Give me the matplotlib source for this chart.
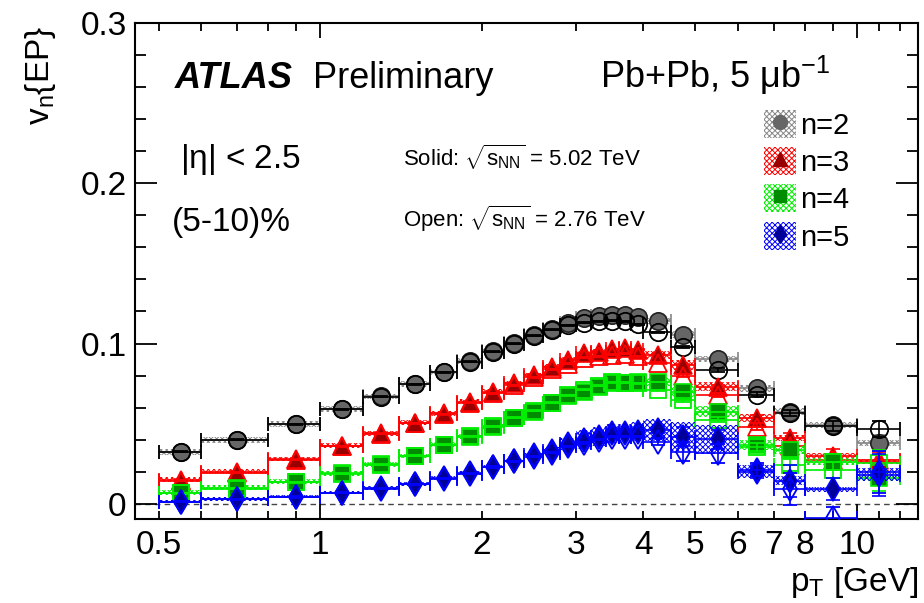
import matplotlib
matplotlib.use('Agg')
import matplotlib.pyplot as plt
from matplotlib.patches import Rectangle
from matplotlib.lines import Line2D
from matplotlib.ticker import FixedLocator, FixedFormatter, MultipleLocator

plt.rcParams['font.family'] = ['Liberation Sans', 'DejaVu Sans']
plt.rcParams['mathtext.fontset'] = 'custom'
plt.rcParams['mathtext.rm'] = 'Liberation Sans'
plt.rcParams['mathtext.it'] = 'Liberation Sans:italic'
plt.rcParams['hatch.linewidth'] = 0.7

# pT bins [GeV]
pt_lo = [0.5, 0.6, 0.8, 1.0, 1.2, 1.4, 1.6, 1.8, 2.0, 2.2, 2.4, 2.6, 2.8,
         3.0, 3.2, 3.4, 3.6, 3.8, 4.0, 4.5, 5.0, 6.0, 7.0, 8.0, 10.0]
pt_hi = [0.6, 0.8, 1.0, 1.2, 1.4, 1.6, 1.8, 2.0, 2.2, 2.4, 2.6, 2.8, 3.0,
         3.2, 3.4, 3.6, 3.8, 4.0, 4.5, 5.0, 6.0, 7.0, 8.0, 10.0, 12.0]

# 5.02 TeV (solid)
v2_502 = [0.0326, 0.0400, 0.0500, 0.0592, 0.0670, 0.0748, 0.0823, 0.0890, 0.0952, 0.1003, 0.1053, 0.1093, 0.1130,
          0.1160, 0.1172, 0.1180, 0.1180, 0.1165, 0.1140, 0.1055, 0.0905, 0.0720, 0.0576, 0.0493, 0.0378]
v3_502 = [0.0150, 0.0200, 0.0280, 0.0364, 0.0441, 0.0507, 0.0565, 0.0638, 0.0700, 0.0752, 0.0804, 0.0856, 0.0898,
          0.0940, 0.0950, 0.0964, 0.0970, 0.0960, 0.0929, 0.0867, 0.0731, 0.0534, 0.0410, 0.0300, 0.0264]
v4_502 = [0.0070, 0.0100, 0.0139, 0.0191, 0.0247, 0.0299, 0.0368, 0.0420, 0.0482, 0.0534, 0.0575, 0.0628, 0.0673,
          0.0700, 0.0731, 0.0752, 0.0755, 0.0758, 0.0760, 0.0700, 0.0576, 0.0368, 0.0337, 0.0264, 0.0160]
v5_502 = [0.0015, 0.0030, 0.0046, 0.0071, 0.0098, 0.0125, 0.0160, 0.0191, 0.0233, 0.0270, 0.0305, 0.0332, 0.0374,
          0.0400, 0.0420, 0.0440, 0.0440, 0.0451, 0.0460, 0.0420, 0.0403, 0.0201, 0.0145, 0.0092, 0.0181]

# 2.76 TeV (open)
v2_276 = [0.0326, 0.0400, 0.0498, 0.0590, 0.0668, 0.0745, 0.0820, 0.0887, 0.0950, 0.1000, 0.1048, 0.1085, 0.1115,
          0.1130, 0.1140, 0.1143, 0.1140, 0.1120, 0.1070, 0.0980, 0.0835, 0.0680, 0.0565, 0.0486, 0.0466]
v3_276 = [0.0145, 0.0195, 0.0275, 0.0360, 0.0437, 0.0503, 0.0560, 0.0630, 0.0690, 0.0740, 0.0790, 0.0840, 0.0875,
          0.0910, 0.0920, 0.0930, 0.0935, 0.0920, 0.0880, 0.0800, 0.0680, 0.0482, 0.0360, 0.0274, 0.0274]
v4_276 = [0.0065, 0.0095, 0.0135, 0.0188, 0.0245, 0.0300, 0.0368, 0.0422, 0.0485, 0.0537, 0.0580, 0.0630, 0.0678,
          0.0712, 0.0738, 0.0758, 0.0755, 0.0752, 0.0710, 0.0648, 0.0524, 0.0357, 0.0243, 0.0212, 0.0254]
v5_276 = [0.0013, 0.0028, 0.0044, 0.0069, 0.0096, 0.0122, 0.0157, 0.0188, 0.0230, 0.0265, 0.0295, 0.0320, 0.0360,
          0.0380, 0.0400, 0.0420, 0.0420, 0.0420, 0.0388, 0.0326, 0.0316, 0.0212, 0.0092, -0.0089, 0.0200]

# systematic half-heights (5.02 TeV boxes)
sys2 = [0.0018] * 18 + [0.0018, 0.0020, 0.0020, 0.0020, 0.0020, 0.0018, 0.0018]
sys3 = [0.0015] * 18 + [0.0025, 0.0030, 0.0030, 0.0025, 0.0020, 0.0018, 0.0018]
sys4 = [0.0015] * 18 + [0.0025, 0.0035, 0.0035, 0.0030, 0.0025, 0.0020, 0.0020]
sys5 = [0.0012] * 11 + [0.0020, 0.0040, 0.0060, 0.0060, 0.0060, 0.0060, 0.0060,
                        0.0070, 0.0090, 0.0090, 0.0040, 0.0030, 0.0015, 0.0040]

# statistical errors
stat2 = [0.0003] * 19 + [0.0006, 0.0010, 0.0015, 0.0020, 0.0030, 0.0050]
stat3 = [0.0003] * 19 + [0.0008, 0.0012, 0.0020, 0.0030, 0.0040, 0.0060]
stat4 = [0.0003] * 19 + [0.0010, 0.0015, 0.0025, 0.0040, 0.0050, 0.0080]
stat5 = [0.0004] * 18 + [0.0020, 0.0060, 0.0060, 0.0040, 0.0100, 0.0070, 0.0130]

pt = [(a + b) / 2 for a, b in zip(pt_lo, pt_hi)]
xerr = [[c - a for c, a in zip(pt, pt_lo)], [b - c for c, b in zip(pt, pt_hi)]]

fig = plt.figure(figsize=(9.24, 6.03), dpi=100)
ax = fig.add_axes([0.1461, 0.1393, 0.8477, 0.8231])

series = [
    # label, solid, open, syst, stat, line colour, hatch colour, face, marker, size
    ('n=2', v2_502, v2_276, sys2, stat2, 'black', '#888888', '#666666', 'o', 12.5),
    ('n=3', v3_502, v3_276, sys3, stat3, '#ff0000', '#ff0000', '#990000', '^', 12.5),
    ('n=4', v4_502, v4_276, sys4, stat4, '#00ee00', '#00ee00', '#008c00', 's', 11),
    ('n=5', v5_502, v5_276, sys5, stat5, '#0000ff', '#0000ff', '#000099', 'd', 12),
]

ax.axhline(0, color='#444444', ls=(0, (4, 3)), lw=1.0, zorder=1)

handles = []
for k, (lab, vs, vo, sy, st, col, hcol, face, mk, ms) in enumerate(series):
    z = 3 + k
    for lo, hi, y, s in zip(pt_lo, pt_hi, vs, sy):
        ax.add_patch(Rectangle((lo, y - s), hi - lo, 2 * s, facecolor='none',
                               edgecolor=hcol, hatch='xxxxxx', lw=0, zorder=z))
    ax.errorbar(pt, vs, xerr=xerr, yerr=st, fmt=mk, ms=ms, mfc=face,
                mec=col if k else '#222222', mew=1.2, ecolor=hcol, elinewidth=1.2,
                capsize=5, capthick=1.2, zorder=z + 0.5)
    ax.errorbar(pt, vo, xerr=xerr, yerr=st, fmt=mk, ms=ms, mfc='none',
                mec=col, mew=1.3, ecolor=col, elinewidth=1.2,
                capsize=5, capthick=1.2, zorder=z + 0.6)
    patch = Rectangle((0, 0), 1, 1, facecolor='none', edgecolor=hcol, hatch='xxxxxx', lw=0)
    mark = Line2D([], [], marker=mk, ls='none', ms=ms * 0.8, mfc=face, mec=face)
    handles.append((patch, mark))

ax.set_xscale('log')
ax.set_xlim(0.452, 13.0)
ax.set_ylim(-0.0094, 0.3)

ax.xaxis.set_major_locator(FixedLocator([1, 10]))
ax.xaxis.set_major_formatter(FixedFormatter(['1', '10']))
minor = [0.5, 0.6, 0.7, 0.8, 0.9, 2, 3, 4, 5, 6, 7, 8, 9, 11, 12]
minor_lab = ['0.5', '', '', '', '', '2', '3', '4', '5', '6', '7', '8', '', '', '']
ax.xaxis.set_minor_locator(FixedLocator(minor))
ax.xaxis.set_minor_formatter(FixedFormatter(minor_lab))
ax.yaxis.set_major_locator(FixedLocator([0, 0.1, 0.2, 0.3]))
ax.yaxis.set_major_formatter(FixedFormatter(['0', '0.1', '0.2', '0.3']))
ax.yaxis.set_minor_locator(MultipleLocator(0.02))

ax.tick_params(axis='both', which='both', direction='in', top=True, right=True,
               labelsize=24, width=1.3)
ax.tick_params(axis='x', which='major', length=11, pad=8)
ax.tick_params(axis='x', which='minor', length=6, pad=8)
ax.tick_params(axis='y', which='major', length=16, pad=6)
ax.tick_params(axis='y', which='minor', length=8)
for s in ax.spines.values():
    s.set_linewidth(1.5)

fig.text(40 / 924, 1 - 75 / 603, r'v$_{\mathrm{n}}${EP}', rotation=90,
         ha='center', va='center', fontsize=24)
fig.text(918 / 924, 1 - 583 / 603, r'p$_{\mathrm{T}}$ [GeV]', ha='right',
         va='center', fontsize=24)

fig.text(175 / 924, 1 - 88 / 603, 'ATLAS', fontsize=26, fontweight='bold',
         fontstyle='italic', va='baseline')
fig.text(313 / 924, 1 - 88 / 603, 'Preliminary', fontsize=26, va='baseline')
fig.text(600 / 924, 1 - 88 / 603, r'Pb+Pb, 5 $\mathrm{\mu}$b$^{\mathrm{-1}}$', fontsize=26, va='baseline')
fig.text(180 / 924, 1 - 168 / 603, r'|$\mathrm{\eta}$| < 2.5', fontsize=24, va='baseline')
fig.text(172 / 924, 1 - 222 / 603, '(5-10)%', fontsize=24, va='center')
fig.text(403 / 924, 1 - 157 / 603, r'Solid: $\sqrt{\mathrm{s}_{\mathrm{NN}}}$ = 5.02 TeV',
         fontsize=16, va='center')
fig.text(403 / 924, 1 - 219 / 603, r'Open: $\sqrt{\mathrm{s}_{\mathrm{NN}}}$ = 2.76 TeV',
         fontsize=16, va='center')

fig.legend(handles, [s[0] for s in series], loc='upper left',
           bbox_to_anchor=(764 / 924, 1 - 110 / 603), frameon=False, fontsize=21,
           handlelength=1.1, handleheight=1.1, handletextpad=0.15, labelspacing=0.25,
           borderpad=0, borderaxespad=0)

fig.savefig('out.png', dpi=100)
